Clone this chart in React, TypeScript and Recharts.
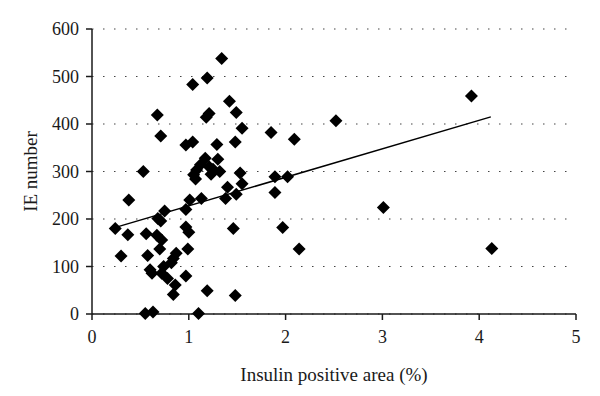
import React from 'react';
import {
  ScatterChart,
  Scatter,
  XAxis,
  YAxis,
  CartesianGrid,
  ReferenceLine,
} from 'recharts';

// insulin positive area (%) for each islet sample
const insulinArea = [
  0.24, 0.30, 0.37, 0.38, 0.53, 0.56, 0.55, 0.575, 0.60, 0.62,
  0.63, 0.675, 0.68, 0.67, 0.71, 0.71, 0.72, 0.70, 0.74, 0.72,
  0.75, 0.78, 0.82, 0.84, 0.87, 0.86, 0.84, 0.97, 0.99, 0.97,
  1.00, 0.97, 1.01, 0.97, 1.04, 1.04, 1.10, 1.19, 1.05, 1.07,
  1.08, 1.12, 1.17, 1.21, 1.25, 1.23, 1.30, 1.32, 1.29, 1.13,
  1.18, 1.21, 1.19, 1.34, 1.42, 1.49, 1.55, 1.48, 1.53, 1.55,
  1.40, 1.38, 1.49, 1.46, 1.48, 1.85, 1.89, 1.89, 2.02, 1.97,
  2.14, 2.09, 2.52, 3.01, 3.92, 4.13,
];

// IE number, same order as insulinArea
const ieNumber = [
  180, 122, 167, 240, 300, 169, 1, 123, 93, 86,
  4, 419, 201, 166, 196, 375, 156, 137, 100, 86,
  217, 75, 108, 117, 128, 61, 41, 80, 137, 183,
  172, 220, 240, 356, 362, 483, 1, 49, 293, 284,
  303, 314, 328, 310, 305, 294, 326, 300, 357, 243,
  414, 422, 497, 538, 448, 424, 391, 362, 297, 274,
  267, 243, 252, 180, 39, 382, 289, 256, 289, 182,
  137, 368, 407, 224, 459, 138,
];

// linear trend line end points
const trendX = [0.27, 4.12];
const trendY = [184, 415];

const xTicks = [0, 1, 2, 3, 4, 5];
const yTicks = [0, 100, 200, 300, 400, 500, 600];

const points = insulinArea.map((x, i) => ({ x, y: ieNumber[i] }));

const FONT = '"Liberation Serif", serif';
const INK = '#1a1a1a';

const Diamond = (props: any) => {
  const { cx, cy } = props;
  const r = 6.5;
  return (
    <polygon
      points={`${cx},${cy - r} ${cx + r},${cy} ${cx},${cy + r} ${cx - r},${cy}`}
      fill="#000"
    />
  );
};

export default function App() {
  return (
    <div style={{ position: 'absolute', left: 0, top: 0, width: 600, height: 396, background: '#fff' }}>
      <ScatterChart
        width={600}
        height={396}
        margin={{ top: 29, right: 24, bottom: 15, left: 0 }}
      >
        <CartesianGrid
          horizontal
          vertical={false}
          stroke="#444"
          strokeWidth={1.2}
          strokeDasharray="1.5 9.5"
        />
        <XAxis
          type="number"
          dataKey="x"
          domain={[0, 5]}
          ticks={xTicks}
          height={67}
          stroke={INK}
          strokeWidth={1.5}
          tickSize={6}
          tickMargin={10}
          tick={{ fill: INK, fontSize: 18, fontFamily: FONT }}
          label={{
            value: 'Insulin positive area (%)',
            position: 'insideBottom',
            offset: 0,
            style: { fill: INK, fontSize: 19, fontFamily: FONT },
          }}
        />
        <YAxis
          type="number"
          dataKey="y"
          domain={[0, 600]}
          ticks={yTicks}
          width={92}
          stroke={INK}
          strokeWidth={1.5}
          tickSize={6}
          tickMargin={7}
          tick={{ fill: INK, fontSize: 18, fontFamily: FONT }}
          label={{
            value: 'IE number',
            angle: -90,
            position: 'insideLeft',
            offset: 30,
            style: { fill: INK, fontSize: 19, fontFamily: FONT, textAnchor: 'middle' },
          }}
        />
        <ReferenceLine
          segment={[
            { x: trendX[0], y: trendY[0] },
            { x: trendX[1], y: trendY[1] },
          ]}
          stroke="#000"
          strokeWidth={1.5}
        />
        <Scatter data={points} shape={<Diamond />} isAnimationActive={false} />
      </ScatterChart>
    </div>
  );
}
